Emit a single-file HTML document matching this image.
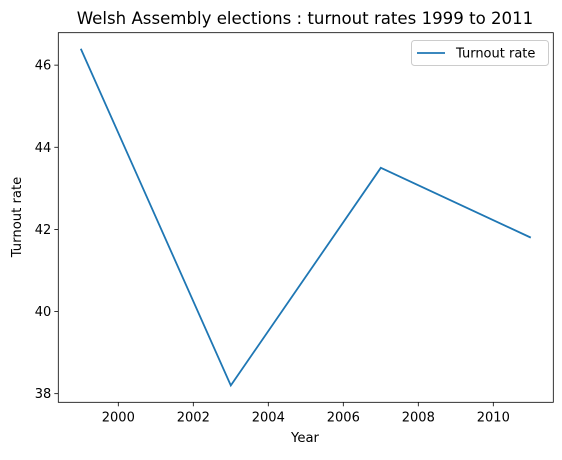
<!DOCTYPE html>
<html><head><meta charset="utf-8"><style>body{margin:0;background:#fff}text{font-family:"DejaVu Sans","Liberation Sans",sans-serif}</style></head>
<body>
<svg id="c" width="562" height="455" xmlns="http://www.w3.org/2000/svg"></svg>
<script>
const years=[1999,2003,2007,2011];
const turnout=[46.4,38.2,43.5,41.8];
const xTicks=[2000,2002,2004,2006,2008,2010];
const yTicks=[38,40,42,44,46];
const L=58.3,R=553.3,T=32.7,B=402.3,x0=1998.4,x1=2011.6,y0=37.79,y1=46.79;
const sx=v=>L+(v-x0)/(x1-x0)*(R-L), sy=v=>B-(v-y0)/(y1-y0)*(B-T);
const svg=document.getElementById('c');const NS='http://www.w3.org/2000/svg';
function mk(t,a,p){const e=document.createElementNS(NS,t);for(const k in a)e.setAttribute(k,a[k]);(p||svg).appendChild(e);return e;}
let e;
e=mk('text',{x:305,y:24,'text-anchor':'middle','font-size':16.6});e.textContent='Welsh Assembly elections : turnout rates 1999 to 2011';


xTicks.forEach(t=>{const x=sx(t);
e=mk('line',{x1:x,x2:x,y1:B,y2:B+4,stroke:'#000','stroke-width':0.8});


e=mk('text',{x:x,y:B+19,'text-anchor':'middle','font-size':13});e.textContent=t;

});
yTicks.forEach(t=>{const y=sy(t);
e=mk('line',{x1:L-4,x2:L,y1:y,y2:y,stroke:'#000','stroke-width':0.8});


e=mk('text',{x:L-7,y:y+4.5,'text-anchor':'end','font-size':13});e.textContent=t;

});
e=mk('text',{x:305,y:442,'text-anchor':'middle','font-size':13.2});e.textContent='Year';


e=mk('text',{x:21,y:217,'text-anchor':'middle','font-size':13.2,transform:'rotate(-90 21 217)'});e.textContent='Turnout rate';


e=mk('polyline',{points:years.map((y,i)=>sx(y)+','+sy(turnout[i])).join(' '),fill:'none',stroke:'#1f77b4','stroke-width':1.8});


e=mk('rect',{x:L,y:T,width:R-L,height:B-T,fill:'none',stroke:'#000','stroke-width':0.8});


const g=mk('g',{});


mk('rect',{x:411.5,y:40.5,width:137,height:25,rx:3,fill:'#fff',stroke:'#ccc','stroke-width':1},g);
mk('line',{x1:417,x2:445,y1:53,y2:53,stroke:'#1f77b4','stroke-width':1.8},g);
e=mk('text',{x:456,y:57.5,'font-size':13},g);e.textContent='Turnout rate';


</script>
</body></html>
